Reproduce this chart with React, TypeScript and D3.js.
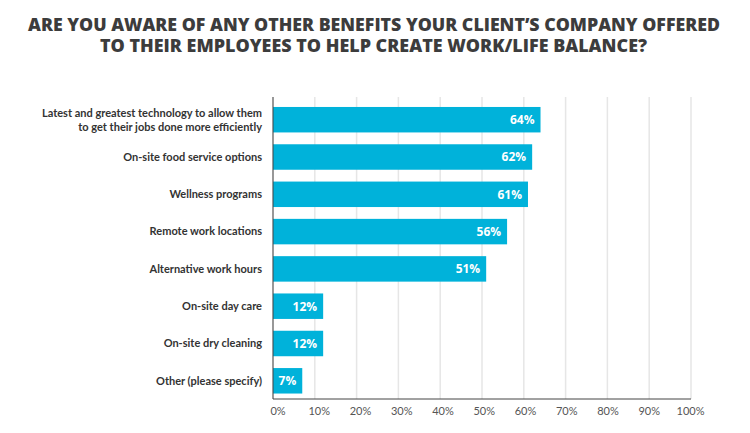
import React from "react";
import * as d3 from "d3";

const titleLines = [
  "ARE YOU AWARE OF ANY OTHER BENEFITS YOUR CLIENT\u2019S COMPANY OFFERED",
  "TO THEIR EMPLOYEES TO HELP CREATE WORK/LIFE BALANCE?",
];
const categories = [
  "Latest and greatest technology to allow them|to get their jobs done more efficiently",
  "On-site food service options",
  "Wellness programs",
  "Remote work locations",
  "Alternative work hours",
  "On-site day care",
  "On-site dry cleaning",
  "Other (please specify)",
];
const values = [64, 62, 61, 56, 51, 12, 12, 7];
const ticks = [0, 10, 20, 30, 40, 50, 60, 70, 80, 90, 100];

const W = 750;
const H = 433;
const left = 273;
const right = 691;
const top = 97;
const bottom = 399;

export default function App() {
  const x = d3.scaleLinear().domain([0, 100]).range([left, right]);
  const xLabel = d3.scaleLinear().domain([0, 100]).range([278, 690.5]);
  const y = d3
    .scaleBand<number>()
    .domain(d3.range(categories.length))
    .range([101, 399.5])
    .paddingInner(0.317)
    .paddingOuter(0.16);
  const bw = y.bandwidth();
  return (
    <svg width={W} height={H} style={{ position: "absolute", left: 0, top: 0, background: "#fff" }}>
      <rect width={W} height={H} fill="#fff" />
      {titleLines.map((t, i) => (
        <text
          key={i}
          x={(i === 0 ? 28 + 692 / 2 : 100 + 547 / 2)}
          y={31 + i * 21}
          textAnchor="middle"
          fontFamily="'Open Sans', sans-serif"
          fontWeight={800}
          fontSize={17}
          fill="#3c3c3c"
          textLength={i === 0 ? 692 : 547}
          lengthAdjust="spacingAndGlyphs"
        >
          {t}
        </text>
      ))}
      {ticks.map((t) => (
        <line key={"g" + t} x1={x(t)} x2={x(t)} y1={top} y2={bottom} stroke="#e6e6e6" strokeWidth={1.5} />
      ))}
      {values.map((v, i) => (
        <g key={"b" + i}>
          <rect x={x(0)} y={y(i)} width={x(v) - x(0)} height={bw} fill="#00b2da" />
          <text
            x={x(v) - 6}
            y={(y(i) as number) + bw / 2}
            dy="0.36em"
            textAnchor="end"
            fontFamily="'Open Sans', sans-serif"
            fontWeight={700}
            fontSize={12}
            fill="#fff"
          >
            {v}%
          </text>
        </g>
      ))}
      {categories.map((c, i) => {
        const lines = c.split("|");
        const cy = (y(i) as number) + bw / 2;
        return (
          <text
            key={"c" + i}
            x={262}
            textAnchor="end"
            fontFamily="Lato, sans-serif"
            fontWeight={700}
            fontSize={11}
            fill="#333"
          >
            {lines.map((l, j) => (
              <tspan key={j} x={262} y={cy + (j - (lines.length - 1) / 2) * 14} dy="0.35em">
                {l}
              </tspan>
            ))}
          </text>
        );
      })}
      <line x1={left} x2={left} y1={top} y2={bottom} stroke="#444" strokeWidth={1} />
      <line x1={left} x2={right} y1={bottom} y2={bottom} stroke="#444" strokeWidth={1} />
      {ticks.map((t) => (
        <text
          key={"t" + t}
          x={xLabel(t)}
          y={411}
          dy="0.35em"
          textAnchor="middle"
          fontFamily="Lato, sans-serif"
          fontSize={11}
          fill="#555"
        >
          {t}%
        </text>
      ))}
    </svg>
  );
}
